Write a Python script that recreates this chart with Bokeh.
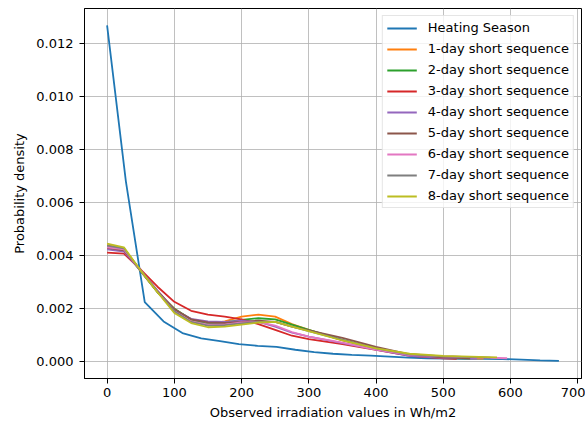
from bokeh.plotting import figure
from bokeh.models import FixedTicker, NumeralTickFormatter, Range1d, Legend
from bokeh.embed import file_html
from bokeh.resources import INLINE

# ---- data ----
heat_x = [0, 28, 56, 84, 112, 140, 168, 196, 224, 252, 280, 308, 336, 364, 392,
          420, 448, 476, 504, 532, 560, 588, 616, 644, 672]
heat_y = [0.0127, 0.0068, 0.00225, 0.00152, 0.00108, 0.00088, 0.00078, 0.00066,
          0.00060, 0.00056, 0.00045, 0.00036, 0.00030, 0.00026, 0.00023, 0.00019,
          0.00015, 0.00013, 0.00012, 0.00011, 0.00011, 0.00010, 0.00008, 0.00005,
          0.00003]

seq_grid = [0, 25, 50, 75, 100, 125, 150, 175, 200, 225, 250, 275, 300, 350, 400, 450, 500]

s1_x = seq_grid + [560]
s1_y = [0.00440, 0.00428, 0.00342, 0.00262, 0.00200, 0.00158, 0.00142, 0.00152, 0.00170,
        0.00178, 0.00170, 0.00142, 0.00120, 0.00080, 0.00050, 0.00025, 0.00015, 0.00012]
s2_x = seq_grid + [540]
s2_y = [0.00432, 0.00422, 0.00342, 0.00262, 0.00200, 0.00160, 0.00142, 0.00148, 0.00158,
        0.00164, 0.00160, 0.00140, 0.00120, 0.00082, 0.00050, 0.00024, 0.00014, 0.00012]
s3_x = seq_grid + [520]
s3_y = [0.00412, 0.00408, 0.00348, 0.00283, 0.00226, 0.00192, 0.00178, 0.00170, 0.00160,
        0.00142, 0.00120, 0.00098, 0.00085, 0.00066, 0.00045, 0.00022, 0.00013, 0.00011]
s4_x = seq_grid + [550]
s4_y = [0.00424, 0.00416, 0.00344, 0.00268, 0.00196, 0.00162, 0.00152, 0.00150, 0.00155,
        0.00150, 0.00132, 0.00110, 0.00095, 0.00070, 0.00046, 0.00022, 0.00014, 0.00012]
s5_x = seq_grid + [540]
s5_y = [0.00430, 0.00420, 0.00344, 0.00266, 0.00198, 0.00160, 0.00148, 0.00146, 0.00150,
        0.00155, 0.00150, 0.00132, 0.00118, 0.00090, 0.00056, 0.00028, 0.00016, 0.00013]
s6_x = seq_grid + [595]
s6_y = [0.00432, 0.00424, 0.00344, 0.00264, 0.00190, 0.00152, 0.00140, 0.00140, 0.00148,
        0.00150, 0.00136, 0.00112, 0.00095, 0.00072, 0.00046, 0.00026, 0.00020, 0.00013]
s7_x = seq_grid + [570]
s7_y = [0.00438, 0.00428, 0.00344, 0.00264, 0.00190, 0.00150, 0.00136, 0.00138, 0.00145,
        0.00150, 0.00150, 0.00132, 0.00115, 0.00082, 0.00050, 0.00028, 0.00020, 0.00015]
s8_x = seq_grid + [580]
s8_y = [0.00446, 0.00432, 0.00344, 0.00262, 0.00184, 0.00146, 0.00130, 0.00132, 0.00140,
        0.00148, 0.00150, 0.00132, 0.00115, 0.00080, 0.00050, 0.00030, 0.00022, 0.00016]

labels = ["Heating Season", "1-day short sequence", "2-day short sequence",
          "3-day short sequence", "4-day short sequence", "5-day short sequence",
          "6-day short sequence", "7-day short sequence", "8-day short sequence"]
colors = ["#1f77b4", "#ff7f0e", "#2ca02c", "#d62728", "#9467bd", "#8c564b",
          "#e377c2", "#7f7f7f", "#bcbd22"]

x_ticks = [0, 100, 200, 300, 400, 500, 600, 700]
y_ticks = [0.0, 0.002, 0.004, 0.006, 0.008, 0.010, 0.012]

series = [(heat_x, heat_y), (s1_x, s1_y), (s2_x, s2_y), (s3_x, s3_y), (s4_x, s4_y),
          (s5_x, s5_y), (s6_x, s6_y), (s7_x, s7_y), (s8_x, s8_y)]

# ---- figure ----
FONT = "DejaVu Sans"
p = figure(width=585, height=422, output_backend="svg", toolbar_location=None,
           x_range=Range1d(-33.6, 705.6), y_range=Range1d(-0.000635, 0.013335),
           min_border_left=84, min_border_right=4, min_border_top=8, min_border_bottom=44)
p.outline_line_color = "black"
p.outline_line_width = 1
p.background_fill_color = "white"
p.border_fill_color = "white"

items = []
for (xs, ys), lab, col in zip(series, labels, colors):
    r = p.line(xs, ys, line_color=col, line_width=1.8)
    items.append((lab, [r]))

legend = Legend(items=items, location="top_right")
legend.label_text_font = FONT
legend.label_text_font_size = "13px"
legend.label_text_color = "#000000"
legend.glyph_width = 30
legend.glyph_height = 14
legend.label_height = 14
legend.spacing = 6
legend.padding = 4
legend.margin = 7
legend.label_standoff = 11
legend.border_line_color = "#cccccc"
legend.border_line_width = 1
legend.background_fill_color = "white"
legend.background_fill_alpha = 0.8
p.add_layout(legend)

for ax in (p.xaxis[0], p.yaxis[0]):
    ax.axis_line_color = "black"
    ax.major_tick_line_color = "black"
    ax.major_tick_out = 5
    ax.major_tick_in = 0
    ax.minor_tick_line_color = None
    ax.major_label_text_font = FONT
    ax.major_label_text_font_size = "13px"
    ax.major_label_text_color = "#000000"
    ax.axis_label_text_font = FONT
    ax.axis_label_text_font_size = "13px"
    ax.axis_label_text_font_style = "normal"
    ax.axis_label_text_color = "#000000"

p.xaxis.ticker = FixedTicker(ticks=x_ticks)
p.yaxis.ticker = FixedTicker(ticks=y_ticks)
p.yaxis.formatter = NumeralTickFormatter(format="0.000")
p.xaxis.axis_label = "Observed irradiation values in Wh/m2"
p.yaxis.axis_label = "Probability density"
p.xaxis.major_label_standoff = 4
p.xaxis.axis_label_standoff = 5
p.yaxis.major_label_standoff = 6
p.yaxis.axis_label_standoff = 6

p.xgrid.grid_line_color = "#b0b0b0"
p.ygrid.grid_line_color = "#b0b0b0"
p.xgrid.grid_line_width = 0.8
p.ygrid.grid_line_width = 0.8

open("out.html", "w").write(file_html(p, INLINE))
